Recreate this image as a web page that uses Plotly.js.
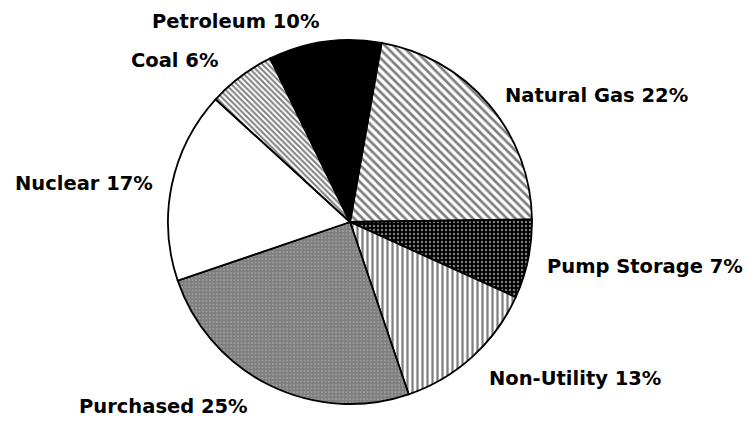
<!DOCTYPE html>
<html>
<head>
<meta charset="utf-8">
<script src="https://cdn.plot.ly/plotly-3.0.1.min.js"></script>
<style>html,body{margin:0;padding:0;background:#fff;}#chart{width:755px;height:422px;}</style>
</head>
<body>
<div id="chart"></div>
<script>
// Data (clockwise from just right of 12 o'clock)
const categories = ["Natural Gas", "Pump Storage", "Non-Utility", "Purchased", "Nuclear", "Coal", "Petroleum"];
const shares = [22, 7, 13, 25, 17, 6, 10];

// Styling per slice
const sliceColors = ["#ffffff", "#000000", "#ffffff", "#ffffff", "#ffffff", "#ffffff", "#000000"];
const patShapes   = ["\\", ".", "|", ".", "", "\\", ""];
const patFg       = ["#000000", "#ffffff", "#000000", "#000000", "#000000", "#000000", "#000000"];
const patSize     = [6, 4, 5, 3.5, 6, 4, 6];
const patSolid    = [0.45, 0.28, 0.45, 0.85, 0.3, 0.5, 0.3];

// Label placement (paper px: left edge, vertical centre)
const labelPos = [
  [503, 95], [545, 266], [487, 378], [77, 406], [13, 183], [129, 60], [150, 21]
];

const W = 755, H = 422;
const cx = 350, cy = 222, R = 182;

const trace = {
  type: 'pie',
  labels: categories,
  values: shares,
  sort: false,
  direction: 'clockwise',
  rotation: 10,
  textinfo: 'none',
  hoverinfo: 'label+percent',
  domain: { x: [(cx - R) / W, (cx + R) / W], y: [(H - cy - R) / H, (H - cy + R) / H] },
  marker: {
    colors: sliceColors,
    line: { color: '#000000', width: 1.8 },
    pattern: { shape: patShapes, fgcolor: patFg, size: patSize, solidity: patSolid, fillmode: 'overlay' }
  }
};

const annotations = categories.map((c, i) => ({
  xref: 'paper', yref: 'paper',
  x: labelPos[i][0] / W, y: 1 - labelPos[i][1] / H,
  xanchor: 'left', yanchor: 'middle',
  text: '<b>' + c + ' ' + shares[i] + '%</b>',
  showarrow: false,
  font: { family: 'DejaVu Sans, Arial, sans-serif', size: 19.5, color: '#000' }
}));

Plotly.newPlot('chart', [trace], {
  width: W, height: H,
  margin: { l: 0, r: 0, t: 0, b: 0 },
  paper_bgcolor: '#ffffff',
  showlegend: false,
  annotations: annotations
}, { staticPlot: true });
</script>
</body>
</html>
